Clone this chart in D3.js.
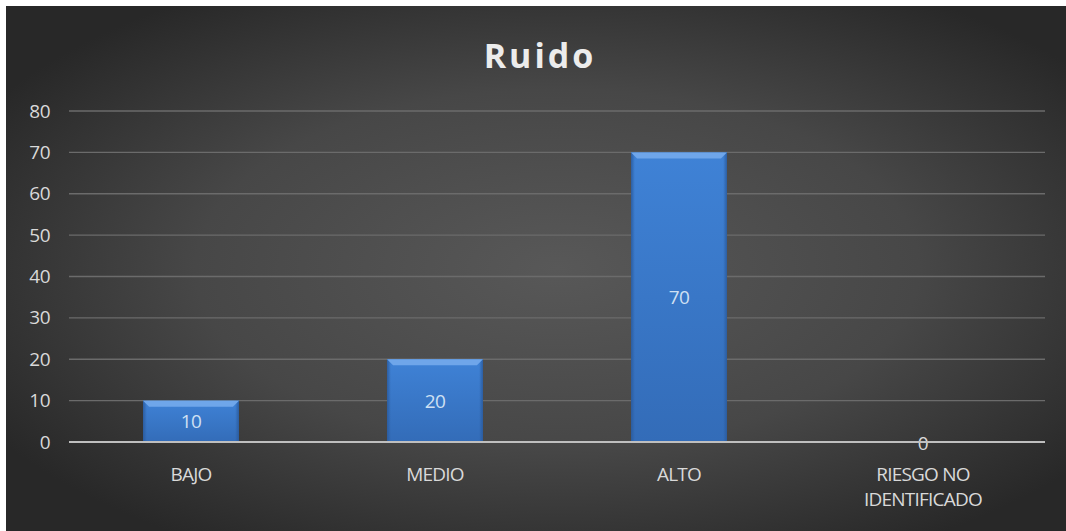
<!DOCTYPE html>
<html>
<head>
<meta charset="utf-8">
<script src="https://cdn.jsdelivr.net/npm/d3@7"></script>
<style>
  html, body { margin: 0; padding: 0; background: #ffffff; }
  svg { display: block; }
</style>
</head>
<body>
<div id="chart"></div>
<script>
// Ruido: risk level counts
const categories = ["BAJO", "MEDIO", "ALTO", "RIESGO NO IDENTIFICADO"];
const values = [10, 20, 70, 0];
const yTicks = [0, 10, 20, 30, 40, 50, 60, 70, 80];
const title = "Ruido";

const W = 1066, H = 531;
const margin = { left: 69, right: 21, top: 111, bottom: 89 };

const svg = d3.select("#chart").append("svg")
  .attr("width", W).attr("height", H);

const defs = svg.append("defs");

// Background: dark radial vignette
const bg = defs.append("radialGradient").attr("id", "bgGrad")
  .attr("cx", "52%").attr("cy", "50%").attr("r", "62%");
bg.append("stop").attr("offset", "0%").attr("stop-color", "#585858");
bg.append("stop").attr("offset", "55%").attr("stop-color", "#474747");
bg.append("stop").attr("offset", "100%").attr("stop-color", "#282828");

// Bar body gradient
const barGrad = defs.append("linearGradient").attr("id", "barGrad")
  .attr("x1", "0").attr("y1", "0").attr("x2", "0").attr("y2", "1");
barGrad.append("stop").attr("offset", "0%").attr("stop-color", "#3f82d6");
barGrad.append("stop").attr("offset", "100%").attr("stop-color", "#336cb8");

const sideGrad = defs.append("linearGradient").attr("id", "sideGrad")
  .attr("x1", "0").attr("y1", "0").attr("x2", "1").attr("y2", "0");
sideGrad.append("stop").attr("offset", "0%").attr("stop-color", "#2a5a9c").attr("stop-opacity", 0.9);
sideGrad.append("stop").attr("offset", "4%").attr("stop-color", "#2a5a9c").attr("stop-opacity", 0);
sideGrad.append("stop").attr("offset", "96%").attr("stop-color", "#2a5a9c").attr("stop-opacity", 0);
sideGrad.append("stop").attr("offset", "100%").attr("stop-color", "#2a5a9c").attr("stop-opacity", 0.9);

svg.append("rect")
  .attr("x", 6).attr("y", 6).attr("width", W - 6).attr("height", H - 6)
  .attr("fill", "url(#bgGrad)");

const x = d3.scaleBand()
  .domain(categories)
  .range([margin.left, W - margin.right])
  .paddingInner(0.607).paddingOuter(0.3035);

const y = d3.scaleLinear()
  .domain([0, 80])
  .range([H - margin.bottom, margin.top]);

const font = "'Open Sans', 'Liberation Sans', sans-serif";

// Title
svg.append("text")
  .attr("x", 540).attr("y", 68)
  .attr("text-anchor", "middle")
  .attr("font-family", font)
  .attr("font-weight", "bold")
  .attr("font-size", 34)
  .attr("letter-spacing", 3)
  .attr("fill", "#ececec")
  .text(title);

// Gridlines
svg.append("g")
  .selectAll("line")
  .data(yTicks.filter(d => d > 0))
  .join("line")
  .attr("x1", margin.left).attr("x2", W - margin.right)
  .attr("y1", d => y(d)).attr("y2", d => y(d))
  .attr("stroke", "#6b6b6b").attr("stroke-width", 1.3);

// Y axis labels
const yAxis = d3.axisLeft(y).tickValues(yTicks).tickSize(0).tickPadding(0);
const gy = svg.append("g")
  .attr("transform", `translate(${margin.left - 19},0)`)
  .call(yAxis);
gy.select(".domain").remove();
gy.selectAll("text")
  .attr("font-family", font)
  .attr("font-size", 19)
  .attr("letter-spacing", -0.5)
  .attr("fill", "#d9d9d9");

// Bars
const bars = svg.append("g").selectAll("g")
  .data(categories.map((c, i) => ({ c, v: values[i] })))
  .join("g");

bars.filter(d => d.v > 0).append("rect")
  .attr("x", d => x(d.c))
  .attr("y", d => y(d.v))
  .attr("width", x.bandwidth())
  .attr("height", d => y(0) - y(d.v))
  .attr("fill", "url(#barGrad)");

bars.filter(d => d.v > 0).append("rect")
  .attr("x", d => x(d.c))
  .attr("y", d => y(d.v))
  .attr("width", x.bandwidth())
  .attr("height", d => y(0) - y(d.v))
  .attr("fill", "url(#sideGrad)");

// Top bevel highlight
bars.filter(d => d.v > 0).append("path")
  .attr("d", d => {
    const x0 = x(d.c), x1 = x0 + x.bandwidth(), t = y(d.v);
    return `M${x0},${t} L${x1},${t} L${x1 - 6},${t + 6} L${x0 + 6},${t + 6} Z`;
  })
  .attr("fill", "#6fa6ea");

// Axis line
svg.append("line")
  .attr("x1", margin.left).attr("x2", W - margin.right)
  .attr("y1", y(0)).attr("y2", y(0))
  .attr("stroke", "#bfbfbf").attr("stroke-width", 2);

// Value labels
bars.append("text")
  .attr("x", d => x(d.c) + x.bandwidth() / 2)
  .attr("y", d => d.v > 0 ? (y(d.v) + y(0)) / 2 + 7 : y(0) + 8)
  .attr("text-anchor", "middle")
  .attr("font-family", font)
  .attr("font-size", 19)
  .attr("letter-spacing", -0.5)
  .attr("fill", d => d.v > 0 ? "#cfe0f3" : "#d9d9d9")
  .text(d => d.v);

// Category labels
const catLabels = svg.append("g").selectAll("text")
  .data(categories)
  .join("text")
  .attr("x", d => x(d) + x.bandwidth() / 2)
  .attr("y", 481)
  .attr("text-anchor", "middle")
  .attr("font-family", font)
  .attr("font-size", 19)
  .attr("letter-spacing", -0.8)
  .attr("fill", "#d9d9d9");

catLabels.each(function(d) {
  const t = d3.select(this);
  const lines = d === "RIESGO NO IDENTIFICADO" ? ["RIESGO NO", "IDENTIFICADO"] : [d];
  lines.forEach((ln, i) => {
    t.append("tspan")
      .attr("x", x(d) + x.bandwidth() / 2)
      .attr("dy", i === 0 ? 0 : 25)
      .text(ln);
  });
});
</script>
</body>
</html>
